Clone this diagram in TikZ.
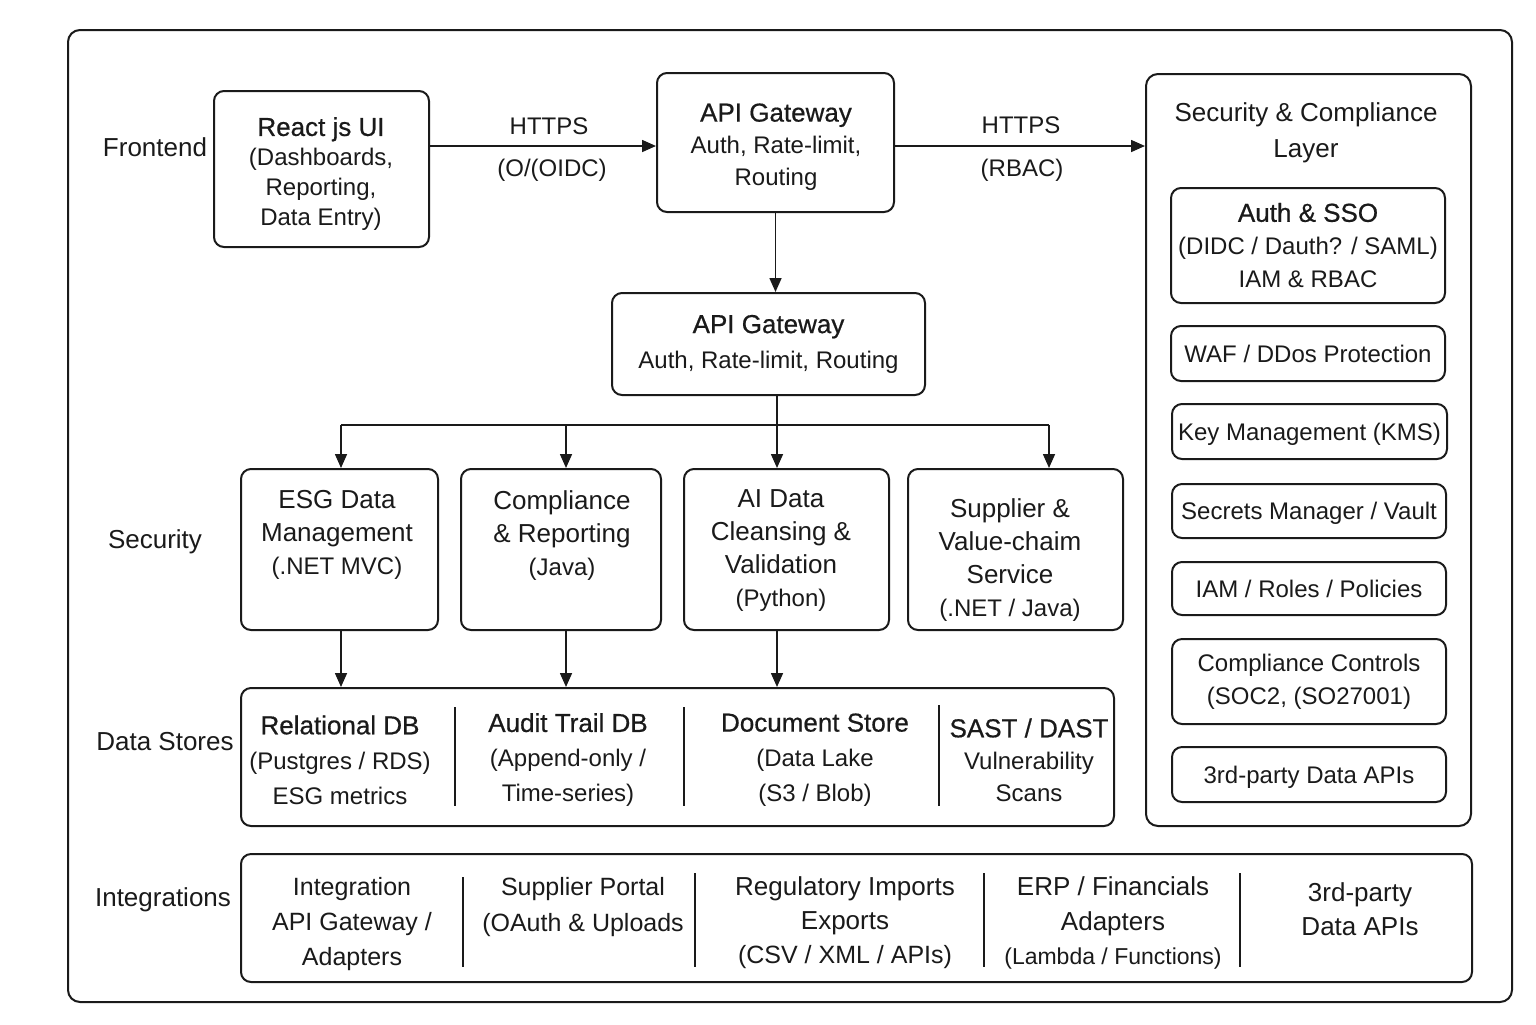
\documentclass[tikz,border=0pt]{standalone}
\usepackage{fontspec}
\setmainfont{Liberation Sans}
\newfontfamily\medfont{Liberation Sans}[FakeBold=0.6]
\usetikzlibrary{arrows.meta}
\definecolor{ink}{HTML}{1A1A1A}
\newcommand\ttl[1]{{\fontsize{13}{15}\selectfont\medfont #1}}
\newcommand\bigt[1]{{\fontsize{13}{15}\selectfont #1}}
\begin{document}
\begin{tikzpicture}[x=0.5pt,y=-0.5pt,
  box/.style={draw=ink, line width=1pt, rounded corners=5pt, align=center, inner sep=0pt, text=ink, font=\fontsize{12}{15}\selectfont},
  onebox/.style={box, text height=8.6pt, text depth=0pt},
  txt/.style={align=center, inner sep=0pt, text=ink, font=\fontsize{12}{15}\selectfont},
  side/.style={inner sep=0pt, text=ink, font=\fontsize{13}{15}\selectfont},
  arr/.style={draw=ink, line width=0.8pt, -{Triangle[length=7pt,width=6pt]}},
  link/.style={draw=ink, line width=0.8pt},
  divider/.style={draw=ink, line width=0.8pt}]
\useasboundingbox (0,0) rectangle (1536,1024);
\fill[white] (0,0) rectangle (1536,1024);
\draw[ink, line width=1pt, rounded corners=6pt] (68,30) rectangle (1512,1002);

% side labels
\node[side] (lfront) at (155,147) {Frontend};
\node[side] (lsec) at (155,542) {Security};
\node[side] (lds) at (165,742) {Data Stores};
\node[side] (lint) at (163,900) {Integrations};

% frontend row
\node[box, minimum width=107.5pt, minimum height=78pt] (react) at (321.5,169) {};
\node[txt] (reactt) at (321,174) {\ttl{React js UI}\\(Dashboards,\\Reporting,\\Data Entry)};
\node[box, minimum width=118.5pt, minimum height=69.5pt] (gw1) at (775.5,142.5) {};
\node[txt, font=\fontsize{12}{16}\selectfont] (gw1t) at (776,147) {\ttl{API Gateway}\\Auth, Rate-limit,\\Routing};
\node[draw=ink, line width=1pt, rounded corners=6pt, minimum width=162.5pt, minimum height=376pt, inner sep=0pt] (sec) at (1308.5,450) {};
\node[txt, font=\fontsize{13}{18}\selectfont] (sectitle) at (1306,133) {Security \& Compliance\\Layer};

\node[txt] (h1) at (549,126) {HTTPS};
\node[txt] (o1) at (552,170) {(O/(OIDC)};
\node[txt] (h2) at (1021,125) {HTTPS};
\node[txt] (r2) at (1022,170) {(RBAC)};
\coordinate (gwin) at ([yshift=-1.75pt]gw1.west);
\coordinate (gwout) at ([yshift=-1.75pt]gw1.east);
\draw[arr] (react.east |- gwin) -- (gwin);
\draw[arr] (gwout) -- (gwout -| sec.west);

% security layer items
\node[box, minimum width=137pt, minimum height=57.5pt, font=\fontsize{12}{16.5}\selectfont] (auth) at (1308,245.5)
  {\ttl{Auth \& SSO}\\(DIDC / Dauth? / SAML)\\IAM \& RBAC};
\node[onebox, minimum width=137pt, minimum height=27.5pt] (waf) at (1308,353.5) {WAF / DDos Protection};
\node[onebox, minimum width=137.5pt, minimum height=27.5pt] (kms) at (1309.5,431.5) {Key Management (KMS)};
\node[onebox, minimum width=137pt, minimum height=27pt] (vault) at (1309,511) {Secrets Manager / Vault};
\node[onebox, minimum width=137pt, minimum height=26.5pt] (iam) at (1309,588.5) {IAM / Roles / Policies};
\node[box, minimum width=137pt, minimum height=42.5pt, font=\fontsize{12}{16.5}\selectfont] (cc) at (1309,681.5) {Compliance Controls\\(SOC2, (SO27001)};
\node[onebox, minimum width=137pt, minimum height=27.5pt] (tp) at (1309,774.5) {3rd-party Data APIs};

% second gateway
\node[box, minimum width=156.5pt, minimum height=51pt, font=\fontsize{12}{17.5}\selectfont] (gw2) at (768.5,344)
  {\ttl{API Gateway}\\Auth, Rate-limit, Routing};
\draw[arr] (gw1.south) -- (gw1.south |- gw2.north);

% services
\node[box, minimum width=98.5pt, minimum height=80.5pt] (esg) at (339.5,549.5) {};
\node[box, minimum width=100pt, minimum height=80.5pt] (comp) at (561,549.5) {};
\node[box, minimum width=102.5pt, minimum height=80.5pt] (ai) at (786.5,549.5) {};
\node[box, minimum width=107.5pt, minimum height=80.5pt] (sup) at (1015.5,549.5) {};
\node[txt, font=\fontsize{12}{16.5}\selectfont] (esgt) at (337,535) {\bigt{ESG Data}\\\bigt{Management}\\(.NET MVC)};
\node[txt, font=\fontsize{12}{16.5}\selectfont] (compt) at (562,536) {\bigt{Compliance}\\\bigt{\& Reporting}\\(Java)};
\node[txt, font=\fontsize{12}{16.5}\selectfont] (ait) at (781,551) {\bigt{AI Data}\\\bigt{Cleansing \&}\\\bigt{Validation}\\(Python)};
\node[txt, font=\fontsize{12}{16.5}\selectfont] (supt) at (1010,560) {\bigt{Supplier \&}\\\bigt{Value-chaim}\\\bigt{Service}\\(.NET / Java)};

% bus
\coordinate (bus) at (777,425);
\coordinate (b1) at (341,425);
\coordinate (b2) at (566,425);
\coordinate (b4) at (1049,425);
\draw[link] (gw2.south -| bus) -- (bus);
\draw[link] (b1) -- (b4);
\draw[arr] (b1) -- (b1 |- esg.north);
\draw[arr] (b2) -- (b2 |- comp.north);
\draw[arr] (bus) -- (bus |- ai.north);
\draw[arr] (b4) -- (b4 |- sup.north);

% data stores
\node[box, minimum width=436.5pt, minimum height=69pt] (ds) at (677.5,757) {};
\draw[arr] (esg.south -| b1) -- (b1 |- ds.north);
\draw[arr] (comp.south -| b2) -- (b2 |- ds.north);
\draw[arr] (ai.south -| bus) -- (bus |- ds.north);
\draw[divider] (455,707) -- (455,806);
\draw[divider] (684,707) -- (684,806);
\draw[divider] (939,705) -- (939,806);
\node[txt, font=\fontsize{12}{17.5}\selectfont] (rdb) at (340,760) {\ttl{Relational DB}\\(Pustgres / RDS)\\ESG metrics};
\node[txt, font=\fontsize{12}{17.5}\selectfont] (adb) at (568,760) {\ttl{Audit Trail DB}\\(Append-only /\\Time-series)};
\node[txt, font=\fontsize{12}{17.5}\selectfont] (doc) at (815,760) {\ttl{Document Store}\\(Data Lake\\(S3 / Blob)};
\node[txt, font=\fontsize{12}{16}\selectfont] (sast) at (1029,760) {\ttl{SAST / DAST}\\Vulnerability\\Scans};

% integrations
\node[box, minimum width=615.5pt, minimum height=64pt] (integ) at (856.5,918) {};
\draw[divider] (463,877) -- (463,967);
\draw[divider] (695,873) -- (695,967);
\draw[divider] (984,873) -- (984,967);
\draw[divider] (1240,873) -- (1240,967);
\node[txt, font=\fontsize{12.5}{17.3}\selectfont] (i1) at (352,924) {Integration\\API Gateway /\\Adapters};
\node[txt, font=\fontsize{12.5}{18}\selectfont] (i2) at (583,907) {Supplier Portal\\(OAuth \& Uploads};
\node[txt, font=\fontsize{12.5}{17}\selectfont] (i3) at (845,923) {\bigt{Regulatory Imports}\\\bigt{Exports}\\(CSV / XML / APIs)};
\node[txt, font=\fontsize{12.5}{17.3}\selectfont] (i4) at (1113,923) {\bigt{ERP / Financials}\\\bigt{Adapters}\\{\fontsize{11.5}{14}\selectfont(Lambda / Functions)}};
\node[txt, font=\fontsize{12.5}{17}\selectfont] (i5) at (1360,909) {\bigt{3rd-party}\\\bigt{Data APIs}};
\end{tikzpicture}
\end{document}
